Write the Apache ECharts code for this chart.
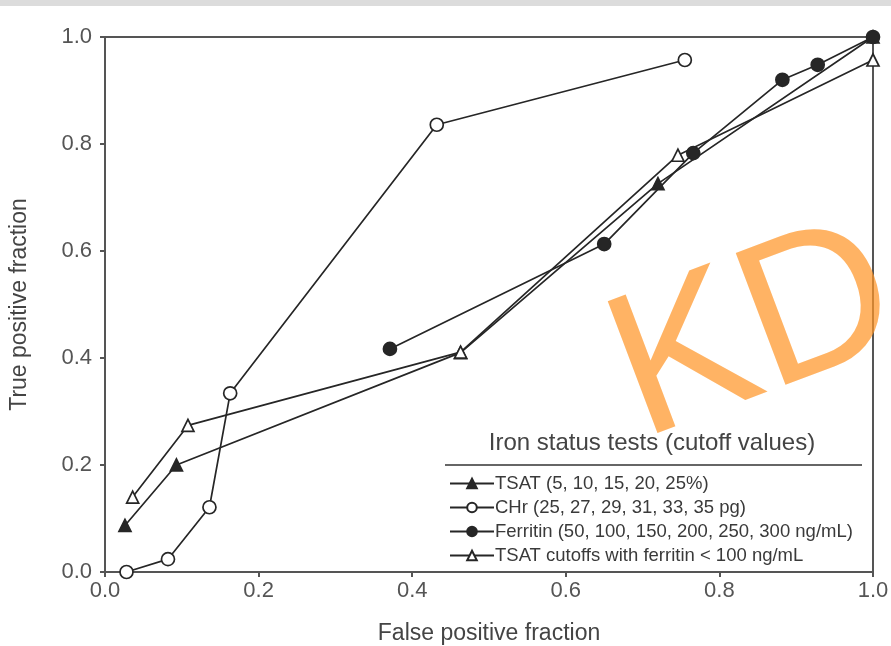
<!DOCTYPE html>
<html>
<head>
<meta charset="utf-8">
<script src="https://cdn.jsdelivr.net/npm/echarts@6/dist/echarts.min.js"></script>
<style>
  html, body { margin: 0; padding: 0; background: #fff; }
  #main { width: 891px; height: 646px; }
</style>
</head>
<body>
<div id="main"></div>
<script>
// ROC points (false positive fraction, true positive fraction)
var tsatFpf = [0.026, 0.093, 0.463, 0.72, 1.0];
var tsatTpf = [0.087, 0.2, 0.41, 0.726, 1.0];

var chrFpf = [0.028, 0.082, 0.136, 0.163, 0.432, 0.755];
var chrTpf = [0.0, 0.024, 0.121, 0.334, 0.836, 0.957];

var ferritinFpf = [0.371, 0.65, 0.766, 0.882, 0.928, 1.0];
var ferritinTpf = [0.417, 0.613, 0.783, 0.92, 0.948, 1.0];

var tsatLowFerFpf = [0.036, 0.108, 0.463, 0.746, 1.0];
var tsatLowFerTpf = [0.14, 0.274, 0.411, 0.779, 0.957];

var seriesNames = [
  'TSAT (5, 10, 15, 20, 25%)',
  'CHr (25, 27, 29, 31, 33, 35 pg)',
  'Ferritin (50, 100, 150, 200, 250, 300 ng/mL)',
  'TSAT cutoffs with ferritin < 100 ng/mL'
];

function pairs(xs, ys) {
  return xs.map(function (x, i) { return [x, ys[i]]; });
}

var lineColor = '#262626';
var font = 'Liberation Sans, Arial, sans-serif';

function mkSeries(name, data, symbol, filled, size) {
  return {
    name: name,
    type: 'line',
    data: data,
    symbol: symbol,
    symbolSize: size,
    showSymbol: true,
    lineStyle: { color: lineColor, width: 1.7 },
    itemStyle: {
      color: filled ? lineColor : '#fff',
      borderColor: lineColor,
      borderWidth: 1.7
    },
    emphasis: { disabled: true },
    animation: false
  };
}

var chart = echarts.init(document.getElementById('main'));

var option = {
  backgroundColor: '#fff',
  animation: false,
  grid: {
    left: 105, right: 18, top: 37, bottom: 74,
    outerBoundsMode: 'none',
    show: true, borderColor: '#555', borderWidth: 2
  },
  xAxis: {
    type: 'value', min: 0, max: 1, interval: 0.2,
    name: 'False positive fraction',
    nameLocation: 'middle', nameGap: 50,
    nameTextStyle: { fontFamily: font, fontSize: 23, color: '#444' },
    axisLine: { lineStyle: { color: '#555', width: 2 } },
    axisTick: { show: true, length: 5, lineStyle: { color: '#555', width: 2 } },
    axisLabel: {
      fontFamily: font, fontSize: 22, color: '#555', margin: 8,
      formatter: function (v) { return v.toFixed(1); }
    },
    splitLine: { show: false }
  },
  yAxis: {
    type: 'value', min: 0, max: 1, interval: 0.2,
    name: 'True positive fraction',
    nameLocation: 'middle', nameGap: 74,
    nameTextStyle: { fontFamily: font, fontSize: 23, color: '#444' },
    axisLine: { lineStyle: { color: '#555', width: 2 } },
    axisTick: { show: true, length: 5, lineStyle: { color: '#555', width: 2 } },
    axisLabel: {
      fontFamily: font, fontSize: 22, color: '#555', margin: 13,
      formatter: function (v) { return v.toFixed(1); }
    },
    splitLine: { show: false }
  },
  legend: {
    orient: 'vertical',
    left: 444, top: 469,
    itemWidth: 44, itemHeight: 12, itemGap: 5,
    textStyle: { fontFamily: font, fontSize: 18.5, color: '#3a3a3a', padding: [0, 0, 0, -4] },
    data: seriesNames
  },
  series: [
    mkSeries(seriesNames[0], pairs(tsatFpf, tsatTpf), 'triangle', true, 12),
    mkSeries(seriesNames[1], pairs(chrFpf, chrTpf), 'circle', false, 13),
    mkSeries(seriesNames[2], pairs(ferritinFpf, ferritinTpf), 'circle', true, 13),
    mkSeries(seriesNames[3], pairs(tsatLowFerFpf, tsatLowFerTpf), 'triangle', false, 12)
  ],
  graphic: [
    {
      type: 'rect', left: 0, top: 0, z: 10,
      shape: { width: 891, height: 6 },
      style: { fill: '#dcdcdc' }
    },
    {
      type: 'text', x: 652, y: 443,
      style: {
        text: 'Iron status tests (cutoff values)',
        font: '24px ' + font, fill: '#444',
        textAlign: 'center', textVerticalAlign: 'middle'
      }
    },
    {
      type: 'line',
      shape: { x1: 445, y1: 465, x2: 862, y2: 465 },
      style: { stroke: '#666', lineWidth: 2 }
    },
    {
      type: 'text', x: 658, y: 482, rotation: 0.36, z: 20,
      style: {
        text: 'KD', font: '205px ' + font,
        fill: 'rgba(255,150,40,0.72)',
        textAlign: 'left', textVerticalAlign: 'bottom'
      }
    }
  ]
};

chart.setOption(option);
</script>
</body>
</html>
